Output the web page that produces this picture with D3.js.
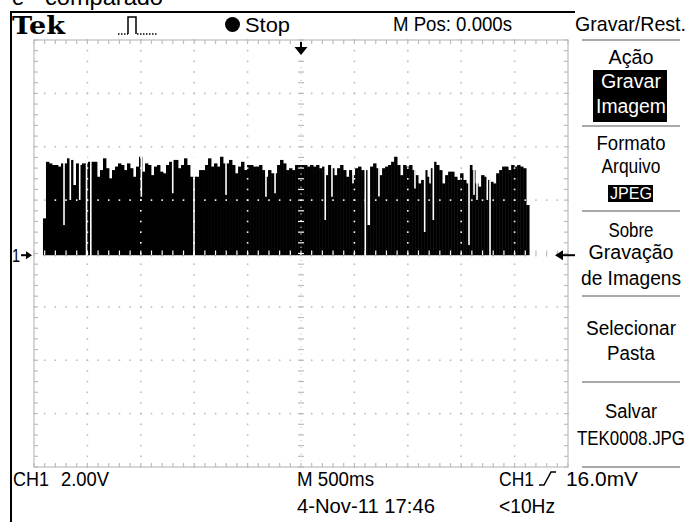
<!DOCTYPE html>
<html>
<head>
<meta charset="utf-8">
<script src="https://cdn.jsdelivr.net/npm/d3@7"></script>
<style>
  html, body { margin: 0; padding: 0; background: #fff; overflow: hidden; }
  text { font-family: "Liberation Sans", Arial, sans-serif; fill: #000; }
</style>
</head>
<body>
<svg id="scope" width="691" height="522"></svg>
<script>
// CH1 acquisition: peak value per display column (volts)
const SIG_T0 = -2.416; // s, first column
const SIG_DT = 0.0281; // s, column spacing
const env = [
  1.38, 3.50, 3.44, 3.38, 3.38, 3.32, 3.44, 3.44, 3.63, 3.57,
  2.63, 3.44, 3.38, 3.44, 3.44, 3.50, 3.50, 3.50, 2.94, 3.19,
  3.63, 3.26, 2.88, 3.19, 3.32, 3.44, 3.38, 3.19, 3.44, 3.26,
  2.94, 3.32, 3.69, 3.13, 3.44, 3.38, 3.00, 3.32, 3.38, 3.13,
  3.07, 3.38, 3.50, 3.57, 3.57, 3.26, 3.38, 3.63, 3.38, 2.94,
  2.94, 2.94, 3.19, 3.19, 3.38, 3.63, 3.32, 3.44, 3.32, 3.69,
  3.44, 3.44, 3.57, 3.38, 3.07, 3.32, 3.50, 3.19, 3.38, 3.38,
  3.32, 3.32, 3.38, 3.19, 2.94, 3.19, 3.07, 3.07, 3.38, 3.57,
  3.44, 3.19, 3.26, 3.19, 3.38, 3.38, 3.38, 3.38, 3.32, 3.38,
  3.32, 3.38, 3.26, 3.32, 3.00, 3.38, 3.26, 3.00, 3.26, 3.38,
  3.19, 2.94, 3.19, 3.00, 3.26, 3.32, 3.19, 3.19, 1.13, 3.32,
  3.44, 3.26, 3.00, 3.26, 3.32, 3.38, 3.50, 3.69, 3.38, 3.00,
  3.38, 3.32, 3.38, 3.19, 3.00, 2.69, 2.82, 3.19, 2.94, 3.26,
  3.50, 3.38, 3.19, 2.69, 3.00, 3.13, 3.13, 2.94, 2.82, 3.07,
  2.82, 2.69, 3.38, 3.19, 2.69, 2.57, 3.00, 2.94, 2.82, 2.75,
  2.69, 3.07, 3.19, 3.32, 3.32, 3.19, 3.38, 3.32, 3.38, 3.32,
  3.26, 1.88
];
// narrow drop-outs (single columns where the peak is lower)
const dipT = [-2.219, -2.160, -2.072, -2.008, -1.968, -1.495, -1.201, -1.002, -0.702, -0.328,
              -0.243, 0.227, 0.290, 0.487, 0.602, 0.730, 1.067, 1.158, 1.208, 1.239,
              1.573, 1.620, 1.648, 1.744, 1.770];
const dipV = [1.13, 2.07, 2.07, 0, 0, 2.19, 2.32, 0, 2.26, 2.19,
              2.32, 1.32, 2.19, 2.69, 0, 2.20, 2.50, 0.87, 2.69, 1.32,
              0.38, 2.26, 2.07, 2.07, 0];

const SEC_PER_DIV = 0.5;
const VOLT_PER_DIV = 2;
const CENTER_VOLT = 0.064;

const statusTop = ['Stop', 'M Pos: 0.000s', 'Gravar/Rest.'];
const menuTexts = ['Ação', 'Gravar', 'Imagem', 'Formato', 'Arquivo', 'JPEG', 'Sobre',
                   'Gravação', 'de Imagens', 'Selecionar', 'Pasta', 'Salvar', 'TEK0008.JPG'];
const menuInverted = ['Gravar', 'Imagem', 'JPEG'];
const readouts = ['CH1', '2.00V', 'M 500ms', 'CH1', '16.0mV', '4-Nov-11 17:46', '<10Hz'];

// ---- layout ----
const L = 34, R = 568, T = 40, B = 467;
const svg = d3.select('#scope');

const x = d3.scaleLinear().domain([-5 * SEC_PER_DIV, 5 * SEC_PER_DIV]).range([L, R]);
const y = d3.scaleLinear()
  .domain([CENTER_VOLT - 4 * VOLT_PER_DIV, CENTER_VOLT + 4 * VOLT_PER_DIV])
  .range([B, T]);

function label(g, txt, px, py, opts = {}) {
  const t = g.append('text')
    .attr('x', px).attr('y', py)
    .attr('font-size', opts.size || 19)
    .attr('text-anchor', opts.anchor || 'start')
    .text(txt);
  if (opts.w) t.attr('textLength', opts.w).attr('lengthAdjust', 'spacingAndGlyphs');
  if (opts.fill) t.style('fill', opts.fill);
  if (opts.family) t.style('font-family', opts.family);
  if (opts.weight) t.attr('font-weight', opts.weight);
  return t;
}

// cut-off caption above the screen
label(svg, 'e', 12, 5, { size: 22 });
label(svg, 'comparado', 45, 5, { size: 22, w: 118 });

// screen frame
svg.append('line').attr('x1', 10).attr('x2', 575).attr('y1', 12).attr('y2', 12)
  .attr('stroke', '#000').attr('stroke-width', 2);
svg.append('line').attr('x1', 11).attr('x2', 11).attr('y1', 11).attr('y2', 522)
  .attr('stroke', '#000').attr('stroke-width', 2);

// ---- graticule ----
const minorT = d3.range(0, 51).map((k) => -2.5 + k * SEC_PER_DIV / 5);
const minorV = d3.range(0, 41).map((k) => y.domain()[0] + k * VOLT_PER_DIV / 5);
const majorT = d3.range(1, 10).filter((i) => i !== 5).map((i) => -2.5 + i * SEC_PER_DIV);
const majorV = d3.range(1, 8).filter((j) => j !== 4).map((j) => y.domain()[0] + j * VOLT_PER_DIV);

function graticule(g, col, withBorder) {
  const dots = [];
  majorT.forEach((t) => minorV.forEach((v) => dots.push([x(t), y(v)])));
  majorV.forEach((v) => minorT.forEach((t) => dots.push([x(t), y(v)])));
  g.append('g').selectAll('rect').data(dots).join('rect')
    .attr('x', (d) => d[0] - 0.8).attr('y', (d) => d[1] - 0.8)
    .attr('width', 1.6).attr('height', 1.6).attr('fill', col);

  const cx = x(0), cy = y(CENTER_VOLT);
  const ticks = g.append('g').attr('stroke', col).attr('stroke-width', 1.2);
  ticks.append('line').attr('x1', cx).attr('x2', cx).attr('y1', T).attr('y2', B).attr('stroke-dasharray', '1,5.67');
  ticks.selectAll('.tv').data(minorV).join('line').attr('class', 'tv')
    .attr('x1', cx - 3).attr('x2', cx + 3).attr('y1', (v) => y(v)).attr('y2', (v) => y(v));
  ticks.selectAll('.th').data(minorT).join('line').attr('class', 'th')
    .attr('y1', cy - 3).attr('y2', cy + 3).attr('x1', (t) => x(t)).attr('x2', (t) => x(t));

  if (!withBorder) return;
  g.append('rect').attr('x', L).attr('y', T).attr('width', R - L).attr('height', B - T)
    .attr('fill', 'none').attr('stroke', col).attr('stroke-width', 1.2);
  ticks.selectAll('.bt').data(minorT).join('line').attr('class', 'bt')
    .attr('x1', (t) => x(t)).attr('x2', (t) => x(t)).attr('y1', T).attr('y2', T + 4);
  ticks.selectAll('.bb').data(minorT).join('line').attr('class', 'bb')
    .attr('x1', (t) => x(t)).attr('x2', (t) => x(t)).attr('y1', B - 4).attr('y2', B);
  ticks.selectAll('.bl').data(minorV).join('line').attr('class', 'bl')
    .attr('y1', (v) => y(v)).attr('y2', (v) => y(v)).attr('x1', L).attr('x2', L + 4);
  ticks.selectAll('.br').data(minorV).join('line').attr('class', 'br')
    .attr('y1', (v) => y(v)).attr('y2', (v) => y(v)).attr('x1', R - 4).attr('x2', R);
}

graticule(svg.append('g'), '#bcbcbc', true);

// ---- waveform ----
const cols = env.map((v, i) => ({ t: SIG_T0 + i * SIG_DT, v }));
const colW = x(SIG_DT) - x(0);

const clip = svg.append('defs').append('clipPath').attr('id', 'sigclip');
clip.selectAll('rect').data(cols).join('rect')
  .attr('x', (d) => x(d.t)).attr('width', colW + 0.4)
  .attr('y', (d) => y(d.v)).attr('height', (d) => y(0) - y(d.v));

svg.append('g').selectAll('rect').data(cols).join('rect')
  .attr('x', (d) => x(d.t)).attr('width', colW + 0.4)
  .attr('y', (d) => y(d.v)).attr('height', (d) => y(0) - y(d.v))
  .attr('fill', '#000');

svg.append('g').selectAll('rect').data(dipT).join('rect')
  .attr('x', (t) => x(t) - 0.8).attr('width', 1.6)
  .attr('y', y(4.0)).attr('height', (t, i) => y(dipV[i]) - y(4.0) + (dipV[i] === 0 ? 1 : 0))
  .attr('fill', '#fff');

// graticule shows through the trace in white
graticule(svg.append('g').attr('clip-path', 'url(#sigclip)'), '#fff', false);

// ---- markers ----
const x0 = x(0), g0 = y(0);
svg.append('rect').attr('x', x0 - 1).attr('y', 42).attr('width', 2).attr('height', 6).attr('fill', '#000');
svg.append('path').attr('d', `M${x0 - 6.5},47 L${x0 + 6.5},47 L${x0},55 Z`).attr('fill', '#000');

svg.append('rect').attr('x', 561).attr('y', g0 - 1).attr('width', 14).attr('height', 2).attr('fill', '#000');
svg.append('path').attr('d', `M555,${g0} L563,${g0 - 5} L563,${g0 + 5} Z`).attr('fill', '#000');

label(svg, '1', 12, g0 + 7, { size: 19, w: 8 });
svg.append('rect').attr('x', 21).attr('y', g0 - 1).attr('width', 6).attr('height', 2).attr('fill', '#000');
svg.append('path').attr('d', `M26,${g0 - 4} L32,${g0} L26,${g0 + 4} Z`).attr('fill', '#000');

// ---- status bar ----
label(svg, 'Tek', 12, 34, { size: 24, w: 53, weight: 'bold', family: '"DejaVu Serif", "Liberation Serif", serif' });
const pulse = svg.append('g').attr('fill', 'none').attr('stroke', '#000').attr('stroke-width', 1.5);
pulse.append('path').attr('d', 'M118,34 H128').attr('stroke-dasharray', '1.5,1.5');
pulse.append('path').attr('d', 'M128,34 V17 H136 V34');
pulse.append('path').attr('d', 'M137,34 H157').attr('stroke-dasharray', '1.5,1.5');
svg.append('circle').attr('cx', 232.5).attr('cy', 24.5).attr('r', 7.5).attr('fill', '#000');
label(svg, statusTop[0], 245, 32, { size: 21, w: 45 });
label(svg, statusTop[1], 393, 31, { size: 21, w: 119 });
label(svg, statusTop[2], 575, 31, { size: 21, w: 111 });

// ---- side menu ----
const MENU_CX = 631;
const menuLayout = [
  [64, 45], [88, 60], [113, 70], [150, 69], [173, 59], [199, 42], [237, 45],
  [259, 85], [285, 100], [335, 90], [360, 48], [418, 52], [445, 108]
];
[40, 126, 211, 296, 382, 467].forEach((ly) => {
  svg.append('line').attr('x1', 582).attr('x2', 680).attr('y1', ly).attr('y2', ly)
    .attr('stroke', '#8c8c8c').attr('stroke-width', 1.5);
});
svg.append('rect').attr('x', 593).attr('y', 70).attr('width', 74).attr('height', 52).attr('fill', '#000');
svg.append('rect').attr('x', 608).attr('y', 185).attr('width', 45).attr('height', 17).attr('fill', '#000');
menuTexts.forEach((s, i) => {
  const [by, w] = menuLayout[i];
  const inv = menuInverted.includes(s);
  label(svg, s, MENU_CX, by, { size: s === 'JPEG' ? 17 : 20, w, anchor: 'middle', fill: inv ? '#fff' : '#000' });
});

// ---- readouts ----
label(svg, readouts[0], 13, 486, { size: 20, w: 36 });
label(svg, readouts[1], 61, 486, { size: 20, w: 48 });
label(svg, readouts[2], 297, 486, { size: 20, w: 77 });
label(svg, readouts[3], 499, 486, { size: 20, w: 35 });
svg.append('path').attr('d', 'M539,485 H544 L551,472 H556').attr('fill', 'none')
  .attr('stroke', '#000').attr('stroke-width', 1.5);
label(svg, readouts[4], 566, 486, { size: 20, w: 72 });
label(svg, readouts[5], 297, 513, { size: 20, w: 138 });
label(svg, readouts[6], 499, 513, { size: 20, w: 56 });
</script>
</body>
</html>
